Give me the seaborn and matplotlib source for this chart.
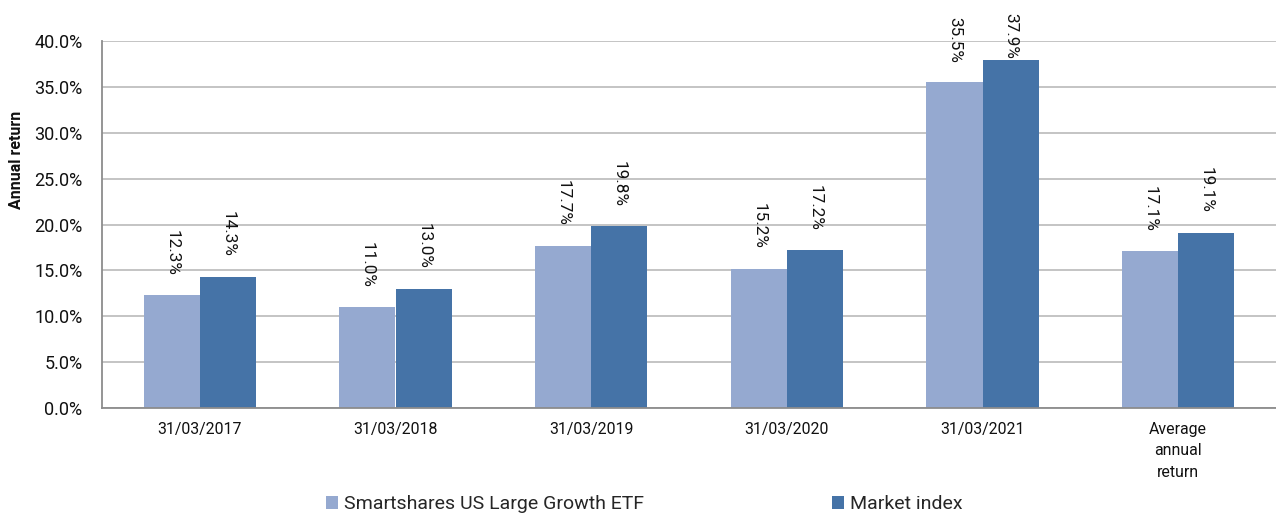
import matplotlib
matplotlib.use("Agg")
import matplotlib.pyplot as plt
import seaborn as sns
import pandas as pd
from matplotlib.patches import Patch
from matplotlib.ticker import FuncFormatter

categories = ["31/03/2017", "31/03/2018", "31/03/2019", "31/03/2020", "31/03/2021",
              "Average\nannual\nreturn"]
series_names = ["Smartshares US Large Growth ETF", "Market index"]
etf_values = [12.3, 11.0, 17.7, 15.2, 35.5, 17.1]
index_values = [14.3, 13.0, 19.8, 17.2, 37.9, 19.1]
colors = ["#95A9D0", "#4573A7"]

df = pd.DataFrame({
    "category": categories * 2,
    "series": [series_names[0]] * len(categories) + [series_names[1]] * len(categories),
    "value": etf_values + index_values,
})

sns.set_theme(style="white")
plt.rcParams["font.family"] = ["Roboto", "DejaVu Sans"]

W, H = 1276, 514
fig = plt.figure(figsize=(W / 100, H / 100), dpi=100)
ax = fig.add_axes([102 / W, 1 - 408 / H, (1276 - 102) / W, (408 - 41) / H])

sns.barplot(data=df, x="category", y="value", hue="series", order=categories,
            hue_order=series_names, palette=colors, width=0.575, gap=0,
            saturation=1, ax=ax, legend=False, edgecolor="none", linewidth=0)

ax.set_ylim(0, 40)
ax.set_xlim(-0.5, len(categories) - 0.5)
ax.set_yticks([0, 5, 10, 15, 20, 25, 30, 35, 40])
ax.yaxis.set_major_formatter(FuncFormatter(lambda v, p: f"{v:.1f}%"))
ax.grid(axis="y", color="#BFBFBF", linewidth=1.3)
ax.set_axisbelow(True)

# x ticks: marks at category boundaries, labels at centers
ax.set_xticks([i - 0.5 for i in range(len(categories) + 1)])
ax.set_xticklabels([])
ax.set_xticks(list(range(len(categories))), minor=True)
ax.set_xticklabels(categories, minor=True, fontsize=11.4, color="#111111", linespacing=1.55)
ax.tick_params(axis="x", which="major", length=5, width=1.2, color="#8C8C8C", direction="out")
ax.tick_params(axis="x", which="minor", length=0, pad=10)
ax.tick_params(axis="y", length=4, width=1.2, color="#8C8C8C", direction="out",
               labelsize=13, labelcolor="#111111", pad=10)

for s in ["top", "right"]:
    ax.spines[s].set_visible(False)
for s in ["left", "bottom"]:
    ax.spines[s].set_color("#8C8C8C")
    ax.spines[s].set_linewidth(1.3)

ax.set_xlabel("")
ax.set_ylabel("")
fig.text(17 / W, 1 - 160 / H, "Annual return", rotation=90, ha="center", va="center",
         fontsize=11.5, fontweight="bold", color="#111111")

labels = []
for patch in ax.patches:
    h = patch.get_height()
    if h <= 0:
        continue
    t = ax.annotate(f"{h:.1f}%", xy=(patch.get_x() + patch.get_width() / 2, h),
                    xytext=(0, 14), textcoords="offset points", rotation=-90,
                    ha="center", va="bottom", fontsize=12.3, color="#111111")
    labels.append(t)

handles = [Patch(facecolor=c, edgecolor="none") for c in colors]
fig.legend(handles, series_names, loc="center", bbox_to_anchor=(0.505, 0.019), ncol=2,
           frameon=False, fontsize=14, handlelength=0.6, handleheight=0.6,
           handletextpad=0.3, columnspacing=9.7)

# keep labels inside the figure (like the original, which clamps them to the top)
fig.canvas.draw()
renderer = fig.canvas.get_renderer()
for t in labels:
    bb = t.get_window_extent(renderer)
    limit = H - 13
    if bb.y1 > limit:
        shift_pts = (bb.y1 - limit) * 72 / fig.dpi
        x0, y0 = t.xyann
        t.xyann = (x0, y0 - shift_pts)

fig.savefig("out.png", dpi=100)
